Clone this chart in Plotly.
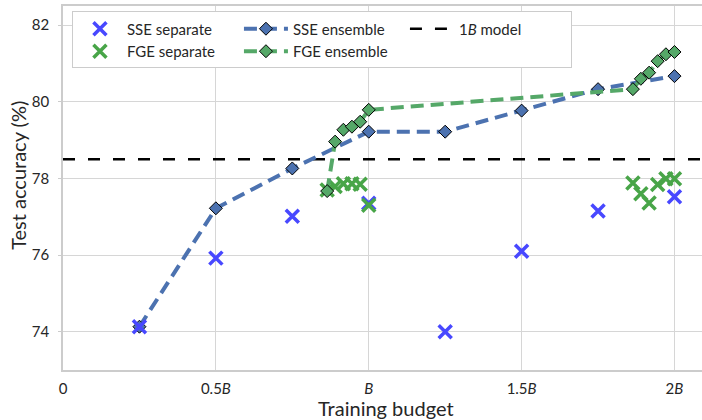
import plotly.graph_objects as go

# ---- data ----
sse_x = [0.25, 0.5, 0.75, 1.0, 1.25, 1.5, 1.75, 2.0]
sse_separate = [74.13, 75.92, 77.01, 77.35, 74.0, 76.1, 77.15, 77.52]
sse_ensemble = [74.13, 77.22, 78.26, 79.22, 79.22, 79.77, 80.33, 80.67]

fge_x = [0.864, 0.89, 0.917, 0.945, 0.972, 1.0, 1.864, 1.89, 1.917, 1.945, 1.972, 2.0]
fge_separate = [77.7, 77.79, 77.86, 77.86, 77.85, 77.3, 77.88, 77.6, 77.36, 77.84, 77.99, 77.99]
fge_ensemble = [77.67, 78.96, 79.27, 79.35, 79.48, 79.79, 80.33, 80.6, 80.76, 81.06, 81.24, 81.3]

one_b_model = 78.5

x_range = [0, 2.09]
y_range = [73, 82.5]
x_tickvals = [0, 0.5, 1.0, 1.5, 2.0]
x_ticktext = ["0", "0.5<i>B</i>", "<i>B</i>", "1.5<i>B</i>", "2<i>B</i>"]
y_tickvals = [74, 76, 78, 80, 82]

FONT = "Lato, 'Open Sans', sans-serif"
BLUE_X = "rgb(72,72,255)"
GREEN_X = "rgb(72,165,72)"
BLUE_D = "#4C72B0"
GREEN_D = "#55A868"

fig = go.Figure()

fig.add_trace(go.Scatter(
    x=x_range, y=[one_b_model, one_b_model], mode="lines",
    name="1<i>B</i> model",
    line=dict(color="black", width=2.5, dash="12px,13px"),
))

fig.add_trace(go.Scatter(
    x=sse_x, y=sse_ensemble, mode="lines+markers",
    name="SSE ensemble",
    line=dict(color=BLUE_D, width=4, dash="13px,7px"),
    marker=dict(symbol="diamond", size=10, color=BLUE_D,
                line=dict(color="black", width=1)),
))

fig.add_trace(go.Scatter(
    x=sse_x, y=sse_separate, mode="markers",
    name="SSE separate",
    marker=dict(symbol="x-thin", size=13, color=BLUE_X,
                line=dict(color=BLUE_X, width=3.5)),
))

fig.add_trace(go.Scatter(
    x=fge_x, y=fge_separate, mode="markers",
    name="FGE separate",
    marker=dict(symbol="x-thin", size=13, color=GREEN_X,
                line=dict(color=GREEN_X, width=3.5)),
))

fig.add_trace(go.Scatter(
    x=fge_x, y=fge_ensemble, mode="lines+markers",
    name="FGE ensemble",
    line=dict(color=GREEN_D, width=4, dash="13px,7px"),
    marker=dict(symbol="diamond", size=10, color=GREEN_D,
                line=dict(color="black", width=1)),
))

# legend order (row-wise, 3 per row): SSE sep, SSE ens, 1B, FGE sep, FGE ens
ranks = {"SSE separate": 1, "SSE ensemble": 2, "1<i>B</i> model": 3,
         "FGE separate": 4, "FGE ensemble": 5}
for tr in fig.data:
    tr.legendrank = ranks[tr.name]

fig.update_layout(
    width=702, height=420,
    margin=dict(l=63, r=0, t=6, b=50, autoexpand=False),
    paper_bgcolor="white", plot_bgcolor="white",
    font=dict(family=FONT, size=15, color="#262626"),
    legend=dict(
        orientation="h", entrywidth=107, itemwidth=44,
        x=0.014, y=0.985, xanchor="left", yanchor="top",
        bgcolor="white", bordercolor="#cccccc", borderwidth=1,
        font=dict(size=15, color="#262626"),
        tracegroupgap=0,
    ),
    xaxis=dict(
        range=x_range, tickvals=x_tickvals, ticktext=x_ticktext,
        showgrid=True, gridcolor="#d6d6d6", gridwidth=1,
        showline=True, linecolor="#cccccc", linewidth=1.5, mirror=True,
        zeroline=False, ticks="", ticklabelstandoff=4, automargin=False,
        tickfont=dict(size=15),
    ),
    yaxis=dict(
        range=y_range, tickvals=y_tickvals,
        showgrid=True, gridcolor="#d6d6d6", gridwidth=1,
        showline=True, linecolor="#cccccc", linewidth=1.5,
        zeroline=False, ticks="outside", ticklen=3, tickcolor="#cccccc",
        ticklabelstandoff=6, automargin=False,
        tickfont=dict(size=15),
    ),
    annotations=[
        dict(text="Training budget", xref="paper", yref="paper",
             x=0.505, y=-0.104, xanchor="center", yanchor="middle",
             showarrow=False, font=dict(size=20, color="#262626")),
        dict(text="Test accuracy (%)", xref="paper", yref="paper",
             x=-0.0705, y=0.536, xanchor="center", yanchor="middle",
             textangle=-90, showarrow=False,
             font=dict(size=20, color="#262626")),
    ],
)

fig.write_html(
    "out.html",
    config={"displayModeBar": False},
    post_script="document.body.style.margin='0';document.body.style.padding='0';",
)
